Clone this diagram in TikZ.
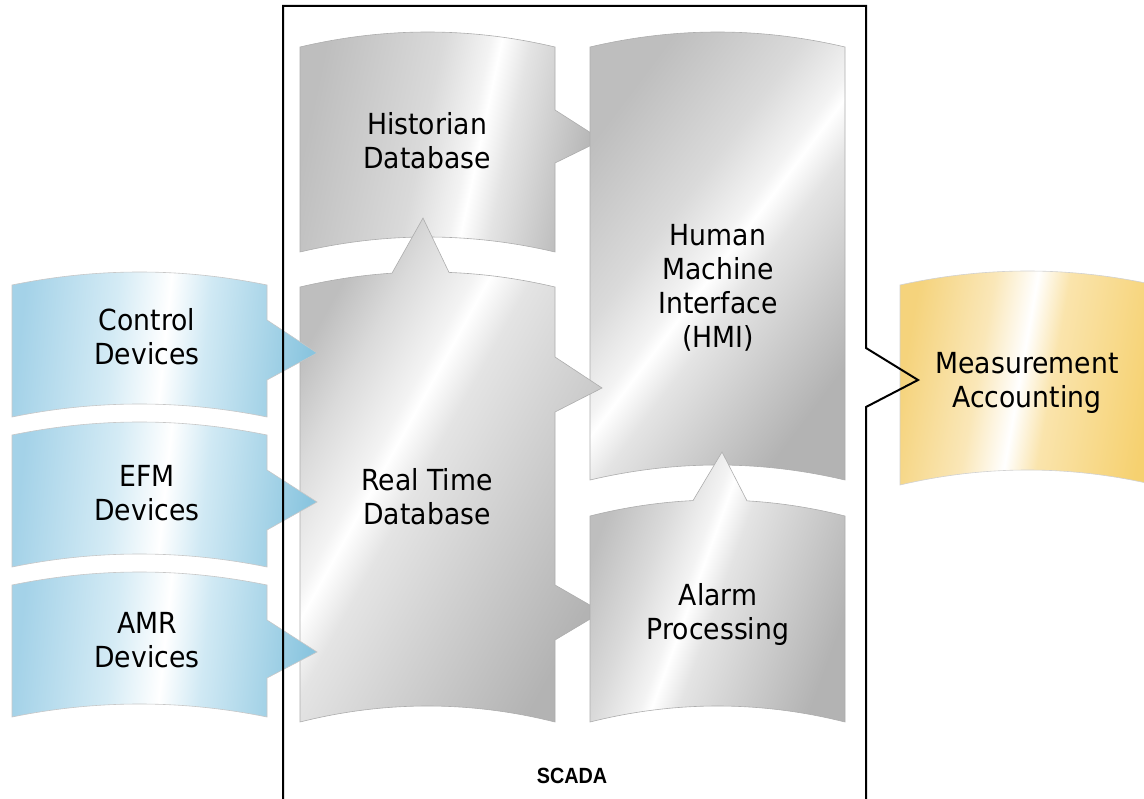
\documentclass[tikz,border=0pt]{standalone}
\usepackage{fontspec}
\setmainfont[FakeStretch=0.92]{DejaVu Sans}
\newfontfamily\scadafont[FakeStretch=0.9]{Liberation Sans}
\definecolor{gA}{HTML}{BEBEBE}
\definecolor{gB}{HTML}{DADADA}
\definecolor{gW}{HTML}{F3F3F3}
\definecolor{gC}{HTML}{E4E4E4}
\definecolor{gD}{HTML}{B3B3B3}
\definecolor{bA}{HTML}{A4D2E8}
\definecolor{bB}{HTML}{D4EBF5}
\definecolor{bC}{HTML}{D0E9F4}
\definecolor{bD}{HTML}{8AC5DF}
\definecolor{yA}{HTML}{F5D37C}
\definecolor{yB}{HTML}{FAE7B8}
\definecolor{yC}{HTML}{FAE4AC}
\definecolor{yD}{HTML}{F6D170}
\pgfdeclarehorizontalshading{rtsh}{100bp}{color(0bp)=(gA); color(25bp)=(gA); color(32bp)=(gB); color(40bp)=(gW); color(42bp)=(white); color(47bp)=(gC); color(75bp)=(gD); color(100bp)=(gD)}
\pgfdeclarehorizontalshading{hmish}{100bp}{color(0bp)=(gA); color(25bp)=(gA); color(41bp)=(gB); color(49bp)=(gW); color(51bp)=(white); color(56bp)=(gC); color(75bp)=(gD); color(100bp)=(gD)}
\pgfdeclarehorizontalshading{histsh}{100bp}{color(0bp)=(gA); color(25bp)=(gA); color(45bp)=(gB); color(53bp)=(gW); color(55bp)=(white); color(60bp)=(gC); color(75bp)=(gD); color(100bp)=(gD)}
\pgfdeclarehorizontalshading{alarmsh}{100bp}{color(0bp)=(gA); color(25bp)=(gA); color(36bp)=(gB); color(44bp)=(gW); color(46bp)=(white); color(51bp)=(gC); color(75bp)=(gD); color(100bp)=(gD)}
\pgfdeclarehorizontalshading{bluesh}{100bp}{color(0bp)=(bA); color(25bp)=(bA); color(41bp)=(bB); color(50bp)=(white); color(57bp)=(bC); color(75bp)=(bD); color(100bp)=(bD)}
\pgfdeclarehorizontalshading{yellowsh}{100bp}{color(0bp)=(yA); color(25bp)=(yA); color(40bp)=(yB); color(48.5bp)=(white); color(55bp)=(yC); color(75bp)=(yD); color(100bp)=(yD)}
\tikzset{
  grayflag/.style={draw=black!32, line width=0.6pt},
  blueflag/.style={shading=bluesh, shading angle=-6, draw=black!22, line width=0.6pt},
  yellowflag/.style={shading=yellowsh, shading angle=-10, draw=black!18, line width=0.6pt},
  lab/.style={align=center, font=\fontsize{29}{34}\selectfont, inner sep=0pt},
  scadaframe/.style={draw=black, line width=2pt, line join=miter},
}
\begin{document}
\begin{tikzpicture}[x=1pt,y=-1pt,samples=40,
  declare function={arcy(\vt,\va,\vb,\vy,\vh)=\vy-\vh*(1-((2*\vt-\va-\vb)/(\vb-\va))*((2*\vt-\va-\vb)/(\vb-\va)));}]
\useasboundingbox (0,0) rectangle (1144,799);
% Historian Database
\shadedraw[grayflag, shading=histsh, shading angle=-12] (300,47) -- plot[domain=300:555] (\x,{arcy(\x,300,555,47,15)})
  -- (555,110) -- (602,140) -- (555,163) -- (555,252)
  -- plot[domain=555:300] (\x,{arcy(\x,300,555,252,15)}) -- cycle;
% HMI
\shadedraw[grayflag, shading=hmish, shading angle=-37] (590,47) -- plot[domain=590:845] (\x,{arcy(\x,590,845,47,15)})
  -- (845,480) -- plot[domain=845:590] (\x,{arcy(\x,590,845,480,15)}) -- cycle;
% Real Time Database
\shadedraw[grayflag, shading=rtsh, shading angle=-29] (300,287) -- plot[domain=300:392] (\x,{arcy(\x,300,555,287,15)})
  -- (423,218) -- plot[domain=449:555] (\x,{arcy(\x,300,555,287,15)})
  -- (555,357) -- (602,388) -- (555,412) -- (555,585) -- (602,612) -- (555,640) -- (555,722)
  -- plot[domain=555:300] (\x,{arcy(\x,300,555,722,16)}) -- cycle;
% Alarm Processing
\shadedraw[grayflag, shading=alarmsh, shading angle=-20] (590,516) -- plot[domain=590:693] (\x,{arcy(\x,590,845,516,16)})
  -- (722,452) -- plot[domain=747:845] (\x,{arcy(\x,590,845,516,16)})
  -- (845,722) -- plot[domain=845:590] (\x,{arcy(\x,590,845,722,16)}) -- cycle;
% Blue devices
\shadedraw[blueflag] (12,285) -- plot[domain=12:267] (\x,{arcy(\x,12,267,285,13)})
  -- (267,320) -- (317,353) -- (267,380) -- (267,417)
  -- plot[domain=267:12] (\x,{arcy(\x,12,267,417,13)}) -- cycle;
\shadedraw[blueflag] (12,435) -- plot[domain=12:267] (\x,{arcy(\x,12,267,435,13)})
  -- (267,470) -- (317,502) -- (267,530) -- (267,567)
  -- plot[domain=267:12] (\x,{arcy(\x,12,267,567,13)}) -- cycle;
\shadedraw[blueflag] (12,585) -- plot[domain=12:267] (\x,{arcy(\x,12,267,585,13)})
  -- (267,620) -- (317,652) -- (267,678) -- (267,717)
  -- plot[domain=267:12] (\x,{arcy(\x,12,267,717,13)}) -- cycle;
% Measurement Accounting
\shadedraw[yellowflag] (900,285) -- plot[domain=900:1155] (\x,{arcy(\x,900,1155,285,14)})
  -- (1155,485) -- plot[domain=1155:900] (\x,{arcy(\x,900,1155,485,15)}) -- cycle;
% SCADA frame
\coordinate (fbl) at (283,801);
\coordinate (ftl) at (283,6);
\coordinate (ftr) at (866,6);
\coordinate (fn1) at (866,348);
\coordinate (fnt) at (918,380);
\coordinate (fn2) at (866,407);
\coordinate (fbr) at (866,801);
\draw[scadaframe] (fbl) -- (ftl) -- (ftr) -- (fn1) -- (fnt) -- (fn2) -- (fbr);
% Labels
\node[lab] (hist) at (427,141) {Historian\\Database};
\node[lab] (hmi) at (718,288) {Human\\Machine\\Interface\\(HMI)};
\node[lab] (rtdb) at (427,497) {Real Time\\Database};
\node[lab] (alarm) at (718,614) {Alarm\\Processing};
\node[lab] (ctl) at (147,337) {Control\\Devices};
\node[lab] (efm) at (147,493) {EFM\\Devices};
\node[lab] (amr) at (147,640) {AMR\\Devices};
\node[lab] (meas) at (1027,383) {Measurement\\Accounting};
\node[inner sep=0pt, font=\scadafont\bfseries\fontsize{22}{26}\selectfont] (scada) at (572,776) {SCADA};
\end{tikzpicture}
\end{document}
